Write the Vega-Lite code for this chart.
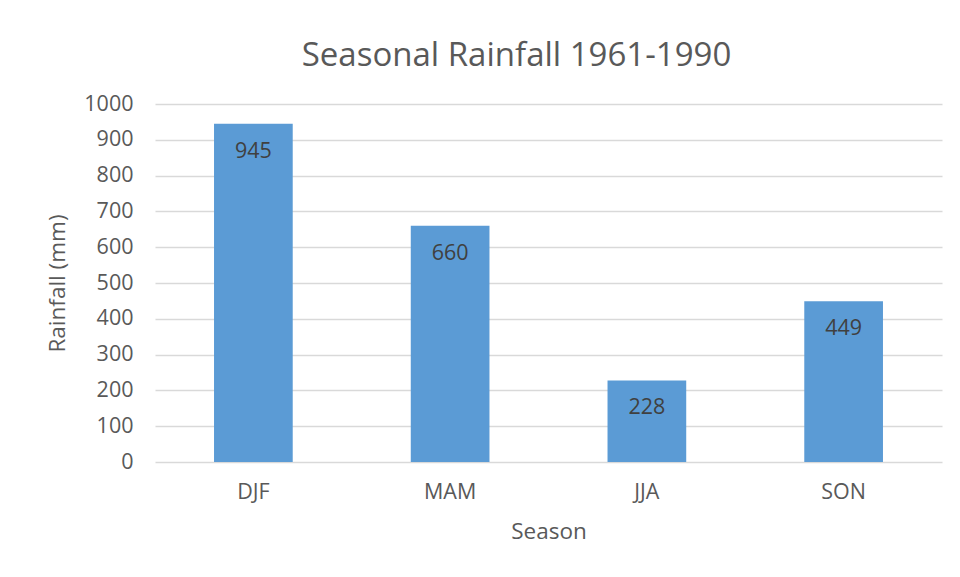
{
  "$schema": "https://vega.github.io/schema/vega-lite/v6.json",
  "width": 787,
  "height": 358,
  "autosize": {"type": "none"},
  "padding": {"left": 155, "top": 104, "right": 18, "bottom": 115},
  "background": "white",
  "config": {
    "font": "Open Sans",
    "view": {"stroke": null},
    "axis": {"labelColor": "#595959", "titleColor": "#595959", "labelFont": "Open Sans", "titleFont": "Open Sans"}
  },
  "title": {
    "text": "Seasonal Rainfall 1961-1990",
    "fontSize": 33,
    "fontWeight": "normal",
    "color": "#595959",
    "anchor": "middle",
    "dx": -32,
    "offset": 20
  },
  "data": {
    "values": [
      {"Season": "DJF", "Rainfall": 945},
      {"Season": "MAM", "Rainfall": 660},
      {"Season": "JJA", "Rainfall": 228},
      {"Season": "SON", "Rainfall": 449}
    ]
  },
  "encoding": {
    "x": {
      "field": "Season",
      "type": "nominal",
      "sort": null,
      "scale": {"paddingInner": 0.6, "paddingOuter": 0.3},
      "axis": {
        "labelAngle": 0,
        "labelFontSize": 21.5,
        "labelPadding": 19,
        "domain": false,
        "ticks": false,
        "title": "Season",
        "titleFontSize": 22.5,
        "titleFontWeight": "normal",
        "titlePadding": 18
      }
    },
    "y": {
      "field": "Rainfall",
      "type": "quantitative",
      "scale": {"domain": [0, 1000]},
      "axis": {
        "values": [0, 100, 200, 300, 400, 500, 600, 700, 800, 900, 1000],
        "format": "d",
        "labelFontSize": 21.5,
        "labelPadding": 22,
        "domain": false,
        "ticks": false,
        "grid": true,
        "gridColor": "#D9D9D9",
        "gridWidth": 1.5,
        "title": "Rainfall (mm)",
        "titleFontSize": 22.5,
        "titleFontWeight": "normal",
        "titlePadding": 14
      }
    }
  },
  "layer": [
    {"mark": {"type": "bar", "color": "#5B9BD5"}},
    {
      "mark": {"type": "text", "baseline": "middle", "dy": 28, "fontSize": 21.5, "color": "#404040"},
      "encoding": {"text": {"field": "Rainfall", "type": "quantitative"}}
    }
  ]
}
